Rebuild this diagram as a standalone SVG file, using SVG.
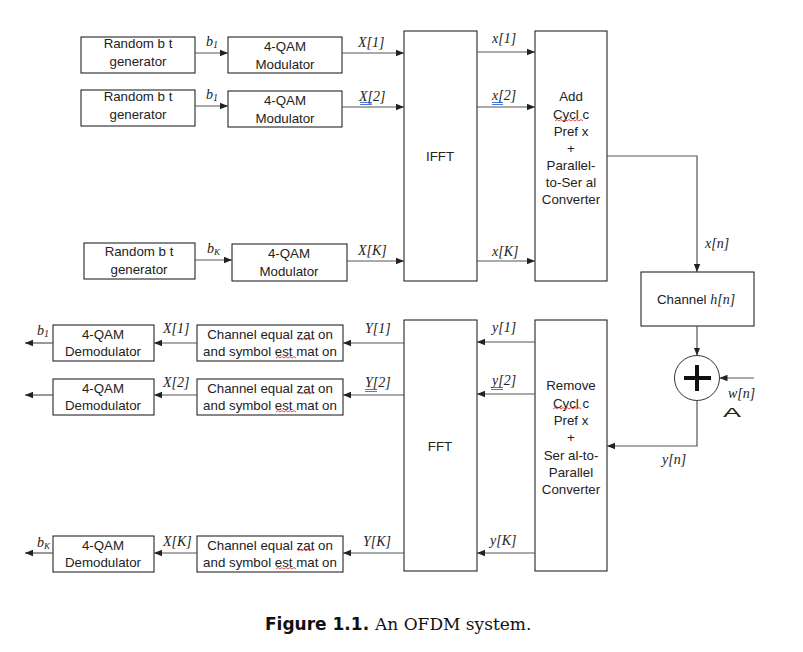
<svg xmlns="http://www.w3.org/2000/svg" width="803" height="652" viewBox="0 0 803 652">
<defs>
<marker id="ah" viewBox="0 0 8 8" refX="8" refY="4" markerWidth="8" markerHeight="8" markerUnits="userSpaceOnUse" orient="auto">
<path d="M0,0.8 L8,4 L0,7.2 Z" fill="#222"/>
</marker>
</defs>
<style>
.box{fill:#fff;stroke:#111;stroke-width:1}
.t{font-family:"Liberation Sans",Arial,sans-serif;font-size:13.3px;fill:#222;text-anchor:middle}
.lb{font-family:"Liberation Serif","Times New Roman",serif;font-style:italic;font-size:14px;fill:#222}
.c{fill:none;stroke:#555;stroke-width:1.2;marker-end:url(#ah)}
.sq{fill:none;stroke:#d22;stroke-width:0.8}
.bu{fill:none;stroke:#2255cc;stroke-width:0.8}
</style>
<rect width="803" height="652" fill="#fff"/>

<g id="gen1"><rect class="box" x="81" y="37" width="114" height="36"/><text class="t" x="138" y="48">Random b t</text><text class="t" x="138" y="66">generator</text></g>
<g id="mod1"><rect class="box" x="228" y="37" width="114" height="36"/><text class="t" x="285" y="51">4-QAM</text><text class="t" x="285" y="69">Modulator</text></g>
<g id="gen2"><rect class="box" x="81" y="90" width="114" height="36"/><text class="t" x="138" y="101">Random b t</text><text class="t" x="138" y="119">generator</text></g>
<g id="mod2"><rect class="box" x="228" y="91" width="114" height="36"/><text class="t" x="285" y="105">4-QAM</text><text class="t" x="285" y="123">Modulator</text></g>
<g id="genK"><rect class="box" x="84" y="243" width="111" height="36"/><text class="t" x="139" y="256">Random b t</text><text class="t" x="139" y="274">generator</text></g>
<g id="modK"><rect class="box" x="232" y="244" width="115" height="37"/><text class="t" x="289" y="258">4-QAM</text><text class="t" x="289" y="276">Modulator</text></g>

<g id="ifft"><rect class="box" x="404" y="31" width="73" height="250"/><text class="t" x="440" y="161">IFFT</text></g>
<g id="addcp"><rect class="box" x="535" y="31" width="72" height="250"/>
<text class="t" x="571" y="101">Add</text>
<text class="t" x="571" y="119">Cycl c</text>
<text class="t" x="571" y="136">Pref x</text>
<text class="t" x="571" y="153">+</text>
<text class="t" x="571" y="170">Parallel-</text>
<text class="t" x="571" y="187">to-Ser  al</text>
<text class="t" x="571" y="204">Converter</text>
</g>

<g id="channel"><rect class="box" x="641" y="272" width="113" height="54"/><text x="657" y="304" font-family="Liberation Sans,Arial,sans-serif" font-size="13.3" fill="#222">Channel <tspan font-family="Liberation Serif,Times New Roman,serif" font-style="italic" font-size="14">h[n]</tspan></text></g>
<g id="adder"><circle cx="697" cy="378" r="22.5" fill="#fff" stroke="#333" stroke-width="1"/><path d="M684,378 H711 M697,365 V391" stroke="#111" stroke-width="4"/></g>

<g id="removecp"><rect class="box" x="535" y="320" width="72" height="251"/>
<text class="t" x="571" y="390">Remove</text>
<text class="t" x="571" y="408">Cycl c</text>
<text class="t" x="571" y="425">Pref x</text>
<text class="t" x="571" y="442">+</text>
<text class="t" x="571" y="460">Ser al-to-</text>
<text class="t" x="571" y="477">Parallel</text>
<text class="t" x="571" y="494">Converter</text>
</g>
<g id="fft"><rect class="box" x="404" y="320" width="73" height="251"/><text class="t" x="440" y="451">FFT</text></g>

<g id="eq1"><rect class="box" x="197" y="325" width="146" height="36"/><text class="t" x="270" y="339">Channel equal zat on</text><text class="t" x="270" y="356">and symbol est mat on</text></g>
<g id="eq2"><rect class="box" x="197" y="379" width="146" height="36"/><text class="t" x="270" y="393">Channel equal zat on</text><text class="t" x="270" y="410">and symbol est mat on</text></g>
<g id="eqK"><rect class="box" x="197" y="536" width="146" height="36"/><text class="t" x="270" y="550">Channel equal zat on</text><text class="t" x="270" y="567">and symbol est mat on</text></g>
<g id="demod1"><rect class="box" x="53" y="325" width="101" height="36"/><text class="t" x="103" y="339">4-QAM</text><text class="t" x="103" y="356">Demodulator</text></g>
<g id="demod2"><rect class="box" x="53" y="379" width="101" height="36"/><text class="t" x="103" y="393">4-QAM</text><text class="t" x="103" y="410">Demodulator</text></g>
<g id="demodK"><rect class="box" x="53" y="536" width="101" height="36"/><text class="t" x="103" y="550">4-QAM</text><text class="t" x="103" y="567">Demodulator</text></g>

<g id="connectors">
<line class="c" x1="195" y1="53" x2="228" y2="53"/>
<line class="c" x1="342" y1="53" x2="404" y2="53"/>
<line class="c" x1="195" y1="106" x2="228" y2="106"/>
<line class="c" x1="342" y1="107" x2="404" y2="107"/>
<line class="c" x1="195" y1="260" x2="232" y2="260"/>
<line class="c" x1="347" y1="261" x2="404" y2="261"/>
<line class="c" x1="477" y1="52" x2="535" y2="52"/>
<line class="c" x1="477" y1="107" x2="535" y2="107"/>
<line class="c" x1="477" y1="261" x2="535" y2="261"/>
<polyline class="c" points="607,156 697,156 697,272"/>
<line class="c" x1="697" y1="326" x2="697" y2="355.5"/>
<line class="c" x1="754" y1="378" x2="719.5" y2="378"/>
<polyline class="c" points="697,400.5 697,446 607,446"/>
<line class="c" x1="535" y1="342" x2="477" y2="342"/>
<line class="c" x1="535" y1="394" x2="477" y2="394"/>
<line class="c" x1="535" y1="553" x2="477" y2="553"/>
<line class="c" x1="404" y1="343" x2="343" y2="343"/>
<line class="c" x1="404" y1="395" x2="343" y2="395"/>
<line class="c" x1="404" y1="553" x2="343" y2="553"/>
<line class="c" x1="197" y1="343" x2="154" y2="343"/>
<line class="c" x1="197" y1="395" x2="154" y2="395"/>
<line class="c" x1="197" y1="553" x2="154" y2="553"/>
<line class="c" x1="53" y1="343" x2="25" y2="343"/>
<line class="c" x1="53" y1="395" x2="25" y2="395"/>
<line class="c" x1="53" y1="553" x2="25" y2="553"/>
</g>

<g id="labels">
<text class="lb" x="206" y="46">b<tspan font-size="10" dy="2">1</tspan></text>
<text class="lb" x="206" y="99">b<tspan font-size="10" dy="2">1</tspan></text>
<text class="lb" x="207" y="253">b<tspan font-size="9" dy="2">K</tspan></text>
<text class="lb" x="358" y="47">X[1]</text>
<text class="lb" x="359" y="101">X[2]</text>
<text class="lb" x="358" y="255">X[K]</text>
<text class="lb" x="492" y="43">x[1]</text>
<text class="lb" x="492" y="100">x[2]</text>
<text class="lb" x="492" y="256">x[K]</text>
<text class="lb" x="705" y="248">x[n]</text>
<text class="lb" x="728" y="398">w[n]</text>
<text x="723" y="417" font-family="Liberation Sans,Arial,sans-serif" font-size="12" fill="#222" textLength="18" lengthAdjust="spacingAndGlyphs">A</text>
<text class="lb" x="662" y="464">y[n]</text>
<text class="lb" x="492" y="332">y[1]</text>
<text class="lb" x="492" y="385">y[2]</text>
<text class="lb" x="490" y="545">y[K]</text>
<text class="lb" x="365" y="333">Y[1]</text>
<text class="lb" x="365" y="387">Y[2]</text>
<text class="lb" x="363" y="546">Y[K]</text>
<text class="lb" x="163" y="333">X[1]</text>
<text class="lb" x="163" y="387">X[2]</text>
<text class="lb" x="163" y="546">X[K]</text>
<text class="lb" x="37" y="335">b<tspan font-size="10" dy="2">1</tspan></text>
<text class="lb" x="37" y="547">b<tspan font-size="9" dy="2">K</tspan></text>
</g>

<g id="marks">
<path class="sq" d="M555,121 l2,-1.5 2,1.5 2,-1.5 2,1.5 2,-1.5 2,1.5 2,-1.5 2,1.5 2,-1.5 2,1.5 2,-1.5 2,1.5 2,-1.5 2,1.5"/>
<path class="sq" d="M553,409 l2,-1.5 2,1.5 2,-1.5 2,1.5 2,-1.5 2,1.5 2,-1.5 2,1.5 2,-1.5 2,1.5 2,-1.5 2,1.5 2,-1.5 2,1.5"/>
<path class="sq" d="M298,340 l2,-1.5 2,1.5 2,-1.5 2,1.5 2,-1.5 2,1.5 2,-1.5 2,1.5"/>
<path class="sq" d="M276,358 l2,-1.5 2,1.5 2,-1.5 2,1.5 2,-1.5 2,1.5 2,-1.5 2,1.5 2,-1.5 2,1.5"/>
<path class="sq" d="M298,394 l2,-1.5 2,1.5 2,-1.5 2,1.5 2,-1.5 2,1.5 2,-1.5 2,1.5"/>
<path class="sq" d="M276,412 l2,-1.5 2,1.5 2,-1.5 2,1.5 2,-1.5 2,1.5 2,-1.5 2,1.5 2,-1.5 2,1.5"/>
<path class="sq" d="M298,551 l2,-1.5 2,1.5 2,-1.5 2,1.5 2,-1.5 2,1.5 2,-1.5 2,1.5"/>
<path class="sq" d="M276,569 l2,-1.5 2,1.5 2,-1.5 2,1.5 2,-1.5 2,1.5 2,-1.5 2,1.5 2,-1.5 2,1.5"/>
<path class="bu" d="M360,102.5 H372 M360,104.5 H372"/>
<path class="bu" d="M492,102.5 H503 M492,104.5 H503"/>
<path class="bu" d="M365,389.5 H377 M365,391.5 H377"/>
<path class="bu" d="M491,387.5 H503 M491,389.5 H503"/>
</g>

<g id="caption">
<text x="265" y="630" font-family="'DejaVu Sans',Verdana,sans-serif" font-weight="bold" font-size="17" fill="#111">Figure 1.1. <tspan font-family="'DejaVu Serif',Georgia,serif" font-weight="normal">An OFDM system.</tspan></text>
</g>
</svg>
